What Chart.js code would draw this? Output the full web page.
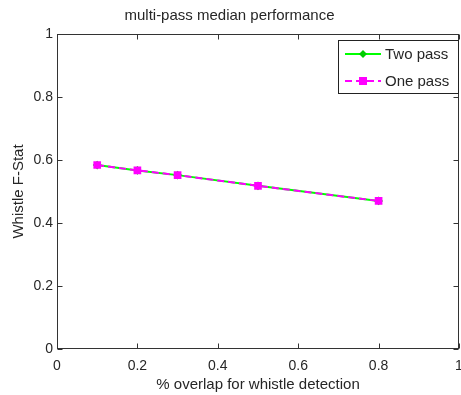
<!DOCTYPE html>
<html>
<head>
<meta charset="utf-8">
<script src="https://cdn.jsdelivr.net/npm/chart.js@4.4.1/dist/chart.umd.min.js"></script>
<style>
  html, body { margin: 0; padding: 0; background: #fff; }
  #wrap { width: 461px; height: 395px; }
</style>
</head>
<body>
<div id="wrap"><canvas id="grafico" width="461" height="395"></canvas></div>
<script>
// datos
const overlap = [0.1, 0.2, 0.3, 0.5, 0.8];
const twoPass = [0.584, 0.567, 0.552, 0.518, 0.470];
const onePass = [0.584, 0.567, 0.552, 0.518, 0.470];
const xTicks = [0, 0.2, 0.4, 0.6, 0.8, 1];
const yTicks = [0, 0.2, 0.4, 0.6, 0.8, 1];
const seriesNames = ["Two pass", "One pass"];

const fuente = "'Liberation Sans', Arial, sans-serif";
const textColor = '#262626';

function fmt(v) {
  return String(Math.round(v * 10) / 10);
}

// caja con marcas hacia dentro (estilo matlab)
const cajaPlugin = {
  id: 'caja',
  afterDraw(chart) {
    const ctx = chart.ctx;
    const a = chart.chartArea;
    const sx = chart.scales.x, sy = chart.scales.y;
    const L = Math.round(a.left) + 0.5, R = Math.round(a.right) - 0.5;
    const T = Math.round(a.top) + 0.5, B = Math.round(a.bottom) - 0.5;
    ctx.save();
    ctx.strokeStyle = '#333';
    ctx.lineWidth = 1;
    ctx.strokeRect(L, T, R - L, B - T);
    ctx.beginPath();
    xTicks.forEach(v => {
      const px = Math.round(sx.getPixelForValue(v)) + 0.5;
      ctx.moveTo(px, B); ctx.lineTo(px, B - 5);
      ctx.moveTo(px, T); ctx.lineTo(px, T + 5);
    });
    yTicks.forEach(v => {
      const py = Math.round(sy.getPixelForValue(v)) + 0.5;
      ctx.moveTo(L, py); ctx.lineTo(L + 5, py);
      ctx.moveTo(R, py); ctx.lineTo(R - 5, py);
    });
    ctx.stroke();

    // leyenda
    const lx = 338.5, ly = 40.5, lw = 120, lh = 53;
    ctx.fillStyle = '#fff';
    ctx.fillRect(lx, ly, lw, lh);
    ctx.strokeStyle = '#222';
    ctx.strokeRect(lx, ly, lw, lh);
    const rows = [54, 81];
    chart.data.datasets.forEach((ds, i) => {
      const y = rows[i];
      ctx.strokeStyle = ds.borderColor;
      ctx.lineWidth = ds.borderWidth;
      ctx.setLineDash(ds.borderDash || []);
      ctx.beginPath();
      ctx.moveTo(345, y); ctx.lineTo(381, y);
      ctx.stroke();
      ctx.setLineDash([]);
      ctx.fillStyle = ds.pointBackgroundColor;
      if (ds.pointStyle === 'rect') {
        ctx.fillRect(363 - 4, y - 4, 8, 8);
      } else {
        ctx.beginPath();
        ctx.moveTo(363, y - 4); ctx.lineTo(367, y); ctx.lineTo(363, y + 4); ctx.lineTo(359, y);
        ctx.closePath();
        ctx.fill();
      }
      ctx.fillStyle = textColor;
      ctx.font = '15px ' + fuente;
      ctx.textBaseline = 'middle';
      ctx.textAlign = 'left';
      ctx.fillText(seriesNames[i], 385, y + 1);
    });
    ctx.restore();
  }
};

const ctx = document.getElementById('grafico').getContext('2d');
new Chart(ctx, {
  type: 'line',
  data: {
    datasets: [
      {
        label: seriesNames[0],
        data: overlap.map((x, i) => ({ x: x, y: twoPass[i] })),
        borderColor: '#00ff00',
        backgroundColor: '#00ff00',
        pointBackgroundColor: '#00cc00',
        pointBorderColor: '#00cc00',
        pointStyle: 'rectRot',
        pointRadius: 3,
        borderWidth: 2,
        order: 1
      },
      {
        label: seriesNames[1],
        data: overlap.map((x, i) => ({ x: x, y: onePass[i] })),
        borderColor: '#ff00ff',
        backgroundColor: '#ff00ff',
        pointBackgroundColor: '#ff00ff',
        pointBorderColor: '#ff00ff',
        pointStyle: 'rect',
        pointRadius: 4,
        borderWidth: 2,
        borderDash: [7, 4],
        order: 0
      }
    ]
  },
  options: {
    responsive: false,
    animation: false,
    layout: { autoPadding: false, padding: { right: 2, left: 0, top: 0, bottom: 0 } },
    plugins: {
      legend: { display: false },
      tooltip: { enabled: false },
      title: {
        display: true,
        text: 'multi-pass median performance',
        color: textColor,
        font: { family: fuente, size: 15, weight: 'normal', lineHeight: 1.2 },
        padding: { top: 7, bottom: 9 }
      }
    },
    scales: {
      x: {
        type: 'linear',
        min: 0,
        max: 1,
        afterFit: s => { s.height = 46; s.paddingRight = 0; s.paddingLeft = 0; },
        afterBuildTicks: s => { s.ticks = xTicks.map(v => ({ value: v })); },
        grid: { display: false, drawTicks: false },
        border: { display: false },
        ticks: {
          color: textColor,
          font: { family: fuente, size: 14 },
          padding: 9,
          maxRotation: 0,
          callback: v => fmt(v)
        },
        title: {
          display: true,
          text: '% overlap for whistle detection',
          color: textColor,
          font: { family: fuente, size: 15 },
          padding: { top: 0, bottom: 1 }
        }
      },
      y: {
        type: 'linear',
        min: 0,
        max: 1,
        afterFit: s => { s.width = 57; },
        afterBuildTicks: s => { s.ticks = yTicks.map(v => ({ value: v })); },
        grid: { display: false, drawTicks: false },
        border: { display: false },
        ticks: {
          color: textColor,
          font: { family: fuente, size: 14 },
          padding: 4,
          callback: v => fmt(v)
        },
        title: {
          display: true,
          text: 'Whistle F-Stat',
          color: textColor,
          font: { family: fuente, size: 15 },
          padding: { top: 10, bottom: 0 }
        }
      }
    }
  },
  plugins: [cajaPlugin]
});
</script>
</body>
</html>
